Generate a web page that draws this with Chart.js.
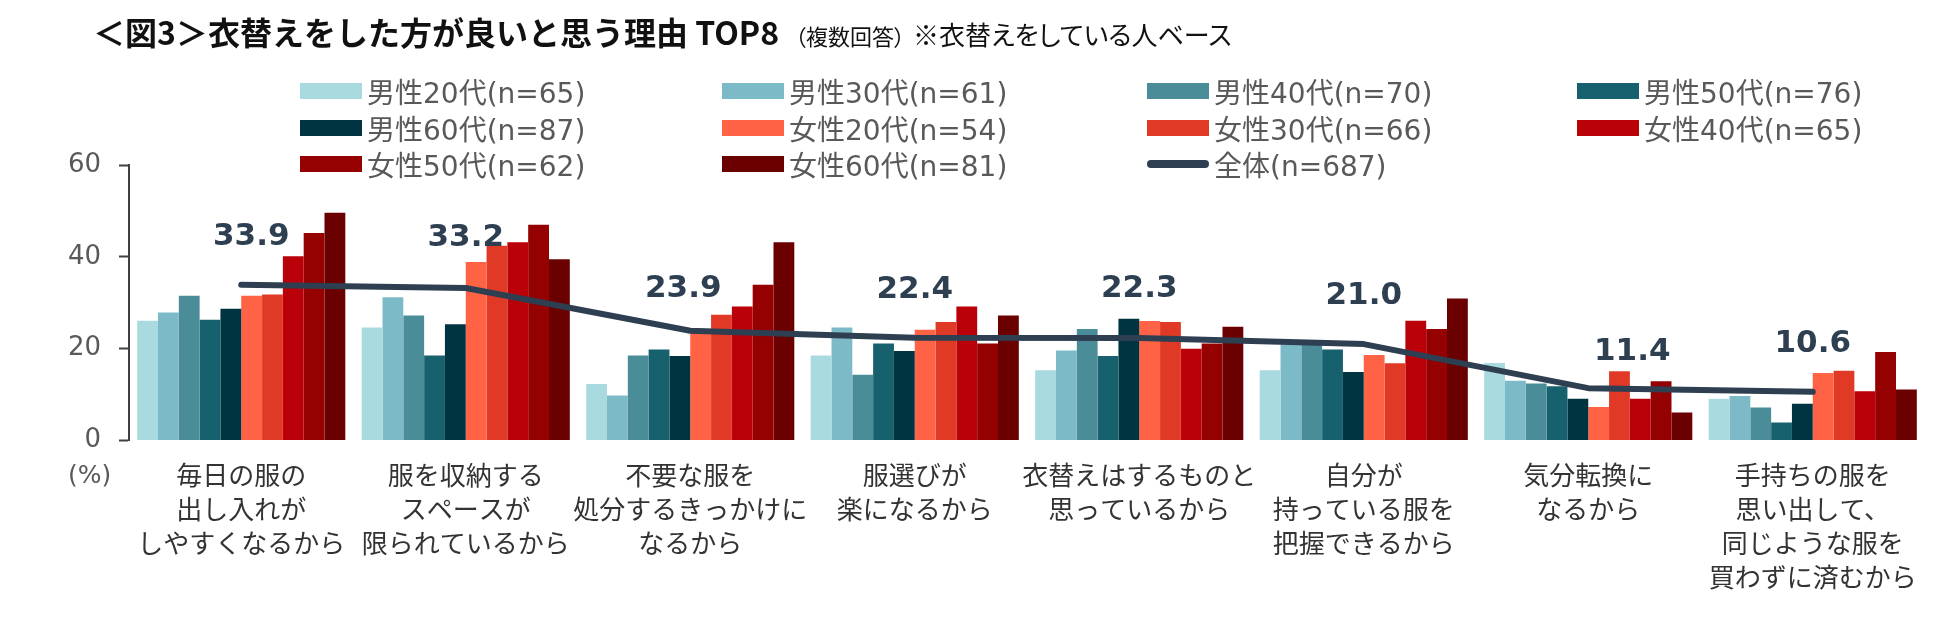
<!DOCTYPE html>
<html>
<head>
<meta charset="utf-8">
<script src="https://cdn.jsdelivr.net/npm/chart.js@4.4.1/dist/chart.umd.min.js"></script>
<style>
  body { margin: 0; background: #fff; }
  #wrap { position: relative; width: 1950px; height: 621px; overflow: hidden; }
  #chart { position: absolute; left: 0; top: 0; }
  #title { position: absolute; left: 93px; top: 8px; white-space: nowrap; color: #111;
           font-family: "Noto Sans CJK JP", sans-serif; }
  #title .main { font-size: 32px; font-weight: bold; }
  #title .sub { font-size: 22px; margin-left: 16px; font-feature-settings: "palt"; }
  #title .note { font-size: 26px; margin-left: 8px; font-feature-settings: "palt"; }
  #legend { position: absolute; left: 300px; top: 73px; display: grid;
            grid-template-columns: 422px 425px 430px 300px; grid-auto-rows: 36.5px; }
  .item { display: flex; align-items: center; font-size: 28px; color: #595959;
          font-family: "DejaVu Sans", "Noto Sans CJK JP", sans-serif; white-space: nowrap; }
  .swatch { width: 62px; height: 16px; margin-right: 5px; flex: none; }
  .swatch.line { height: 8px; border-radius: 4px; }
  #unit { position: absolute; left: 68px; top: 460px; font-size: 25px; color: #595959;
          font-family: "DejaVu Sans", sans-serif; }
</style>
</head>
<body>
<div id="wrap">
  <canvas id="chart" width="1950" height="621"></canvas>
  <div id="title"><span class="main">＜図3＞衣替えをした方が良いと思う理由 TOP8</span><span class="sub">（複数回答）</span><span class="note">※衣替えをしている人ベース</span></div>
  <div id="legend"></div>
  <div id="unit">(%)</div>
</div>
<script>
const categories = [
  ['毎日の服の', '出し入れが', 'しやすくなるから'],
  ['服を収納する', 'スペースが', '限られているから'],
  ['不要な服を', '処分するきっかけに', 'なるから'],
  ['服選びが', '楽になるから'],
  ['衣替えはするものと', '思っているから'],
  ['自分が', '持っている服を', '把握できるから'],
  ['気分転換に', 'なるから'],
  ['手持ちの服を', '思い出して、', '同じような服を', '買わずに済むから']
];

const male20 = [26.1, 24.6, 12.3, 18.5, 15.3, 15.3, 16.9, 9.1];
const male30 = [27.9, 31.2, 9.8, 24.6, 19.6, 20.9, 13.0, 9.7];
const male40 = [31.5, 27.2, 18.5, 14.3, 24.3, 20.9, 12.4, 7.2];
const male50 = [26.3, 18.5, 19.8, 21.1, 18.4, 19.8, 11.8, 3.9];
const male60 = [28.7, 25.3, 18.4, 19.5, 26.5, 14.9, 9.1, 8.0];
const female20 = [31.5, 38.9, 23.5, 24.1, 26.0, 18.6, 7.3, 14.7];
const female30 = [31.8, 42.4, 27.4, 25.8, 25.8, 16.8, 15.1, 15.2];
const female40 = [40.1, 43.2, 29.2, 29.2, 20.0, 26.1, 9.1, 10.7];
const female50 = [45.2, 47.0, 33.9, 21.1, 21.1, 24.3, 12.9, 19.3];
const female60 = [49.6, 39.5, 43.2, 27.2, 24.8, 30.9, 6.1, 11.1];
const total = [33.9, 33.2, 23.9, 22.4, 22.3, 21.0, 11.4, 10.6];

const yTicks = [0, 20, 40, 60];

const barSeries = [
  { label: '男性20代(n=65)', data: male20, color: '#a8dadf' },
  { label: '男性30代(n=61)', data: male30, color: '#7dbac8' },
  { label: '男性40代(n=70)', data: male40, color: '#4b8c99' },
  { label: '男性50代(n=76)', data: male50, color: '#17606e' },
  { label: '男性60代(n=87)', data: male60, color: '#003441' },
  { label: '女性20代(n=54)', data: female20, color: '#ff6245' },
  { label: '女性30代(n=66)', data: female30, color: '#e03a27' },
  { label: '女性40代(n=65)', data: female40, color: '#ba0009' },
  { label: '女性50代(n=62)', data: female50, color: '#950000' },
  { label: '女性60代(n=81)', data: female60, color: '#6b0000' }
];
const lineColor = '#2e3f52';

// small sideways nudges for the total labels (px), the 11.4 one sits right of its point
const labelShift = [10, 0, -7, 0, 0, 0, 44, 0];
const labelLift = [48, 50, 42, 48, 49, 48, 36, 48];

const datasets = barSeries.map(s => ({
  type: 'bar',
  label: s.label,
  data: s.data,
  backgroundColor: s.color,
  borderWidth: 0,
  categoryPercentage: 0.927,
  barPercentage: 1.0,
  order: 2
}));
datasets.push({
  type: 'line',
  label: '全体(n=687)',
  data: total,
  borderColor: lineColor,
  backgroundColor: lineColor,
  borderWidth: 6,
  borderCapStyle: 'round',
  borderJoinStyle: 'round',
  pointRadius: 0,
  tension: 0,
  order: 1
});

const totalLabels = {
  id: 'totalLabels',
  afterDatasetsDraw(chart) {
    const idx = chart.data.datasets.length - 1;
    const meta = chart.getDatasetMeta(idx);
    const ctx = chart.ctx;
    ctx.save();
    ctx.font = 'bold 31px "DejaVu Sans", sans-serif';
    ctx.fillStyle = lineColor;
    ctx.textAlign = 'center';
    ctx.textBaseline = 'middle';
    meta.data.forEach((pt, i) => {
      const v = chart.data.datasets[idx].data[i];
      ctx.fillText(v.toFixed(1), pt.x + labelShift[i], pt.y - labelLift[i]);
    });
    ctx.restore();
  }
};

const chart = new Chart(document.getElementById('chart'), {
  data: { labels: categories, datasets },
  options: {
    responsive: false,
    animation: false,
    devicePixelRatio: 1,
    layout: { padding: { top: 165, right: 25, left: 0, bottom: 0 } },
    plugins: {
      legend: { display: false },
      tooltip: { enabled: false }
    },
    scales: {
      x: {
        grid: { display: false },
        border: { display: false },
        ticks: {
          autoSkip: false,
          maxRotation: 0,
          minRotation: 0,
          padding: 10,
          color: '#333',
          font: { size: 26, family: '"Noto Sans CJK JP", sans-serif', lineHeight: 1.3 }
        },
        afterFit(scale) { scale.height = 180.5; }
      },
      y: {
        min: 0,
        max: 60,
        afterBuildTicks(scale) { scale.ticks = yTicks.map(v => ({ value: v })); },
        grid: { drawOnChartArea: false, tickLength: 10, tickColor: '#404040', tickWidth: 2 },
        border: { display: true, color: '#404040', width: 2 },
        ticks: {
          padding: 18,
          color: '#595959',
          font: { size: 26, family: '"DejaVu Sans", sans-serif' }
        },
        afterFit(scale) { scale.width = 129; }
      }
    }
  },
  plugins: [totalLabels]
});

// html legend in four columns, built from the chart's datasets
const legendEl = document.getElementById('legend');
chart.data.datasets.forEach(ds => {
  const item = document.createElement('div');
  item.className = 'item';
  const sw = document.createElement('span');
  sw.className = ds.type === 'line' ? 'swatch line' : 'swatch';
  sw.style.background = ds.type === 'line' ? ds.borderColor : ds.backgroundColor;
  const txt = document.createElement('span');
  txt.textContent = ds.label;
  item.appendChild(sw);
  item.appendChild(txt);
  legendEl.appendChild(item);
});
</script>
</body>
</html>
